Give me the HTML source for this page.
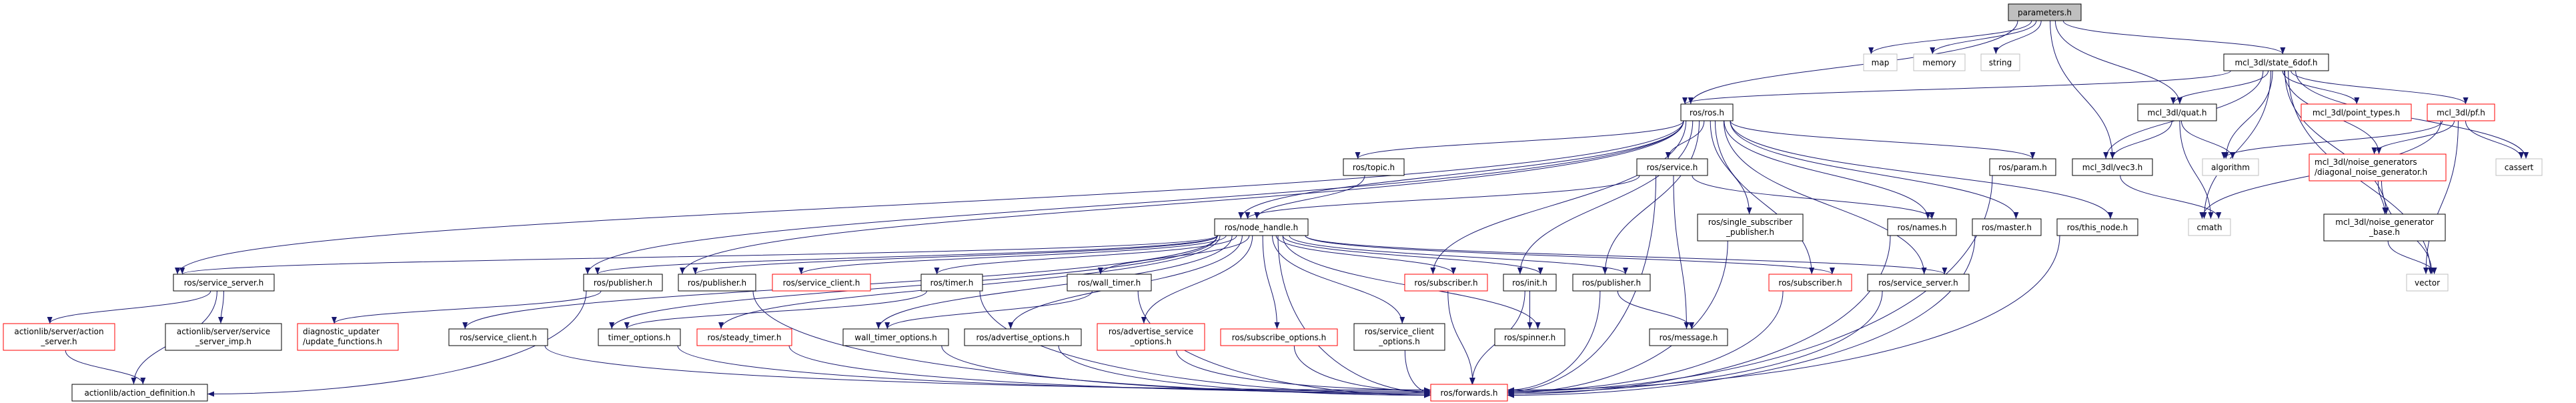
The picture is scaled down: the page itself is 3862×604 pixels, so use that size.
<!DOCTYPE html>
<html><head><meta charset="utf-8">
<style>
html,body{margin:0;padding:0;background:#fff;}
svg{display:block;}
text{font-family:"DejaVu Sans","Liberation Sans",sans-serif;font-size:12px;fill:#000;}
</style></head>
<body>
<svg id="g" width="3862" height="604" viewBox="0 0 3862 604" xmlns="http://www.w3.org/2000/svg">
<defs>
<marker id="ar" markerWidth="11" markerHeight="8" refX="10" refY="4" orient="auto" markerUnits="userSpaceOnUse">
<polygon points="0,0 10,4 0,8" fill="#191970"/>
</marker>
</defs>
<g id="edges" fill="none" stroke="#191970" stroke-width="1"></g>
<g id="nodes">
<rect x="3011" y="6" width="109" height="25" fill="#bfbfbf" stroke="#000"/><text x="3065.5" y="23" text-anchor="middle">parameters.h</text>
<rect x="2794" y="81" width="50" height="25" fill="#fff" stroke="#bfbfbf"/><text x="2819" y="98" text-anchor="middle">map</text>
<rect x="2869" y="81" width="77" height="25" fill="#fff" stroke="#bfbfbf"/><text x="2907.5" y="98" text-anchor="middle">memory</text>
<rect x="2970" y="81" width="58" height="25" fill="#fff" stroke="#bfbfbf"/><text x="2999" y="98" text-anchor="middle">string</text>
<rect x="3334" y="81" width="157" height="25" fill="#fff" stroke="#000"/><text x="3412.5" y="98" text-anchor="middle">mcl_3dl/state_6dof.h</text>
<rect x="2520" y="156" width="78" height="25" fill="#fff" stroke="#000"/><text x="2559" y="173" text-anchor="middle">ros/ros.h</text>
<rect x="3205" y="156" width="118" height="25" fill="#fff" stroke="#000"/><text x="3264" y="173" text-anchor="middle">mcl_3dl/quat.h</text>
<rect x="3450" y="156" width="165" height="25" fill="#fff" stroke="#ff0000"/><text x="3532.5" y="173" text-anchor="middle">mcl_3dl/point_types.h</text>
<rect x="3639" y="156" width="101" height="25" fill="#fff" stroke="#ff0000"/><text x="3689.5" y="173" text-anchor="middle">mcl_3dl/pf.h</text>
<rect x="2014" y="238" width="91" height="25" fill="#fff" stroke="#000"/><text x="2059.5" y="255" text-anchor="middle">ros/topic.h</text>
<rect x="2454" y="238" width="106" height="25" fill="#fff" stroke="#000"/><text x="2507" y="255" text-anchor="middle">ros/service.h</text>
<rect x="2983" y="238" width="99" height="25" fill="#fff" stroke="#000"/><text x="3032.5" y="255" text-anchor="middle">ros/param.h</text>
<rect x="3107" y="238" width="120" height="25" fill="#fff" stroke="#000"/><text x="3167" y="255" text-anchor="middle">mcl_3dl/vec3.h</text>
<rect x="3302" y="238" width="84" height="25" fill="#fff" stroke="#bfbfbf"/><text x="3344" y="255" text-anchor="middle">algorithm</text>
<rect x="3462" y="231" width="205" height="40" fill="#fff" stroke="#ff0000"/><text x="3470" y="247">mcl_3dl/noise_generators</text><text x="3470" y="262">/diagonal_noise_generator.h</text>
<rect x="3742" y="238" width="69" height="25" fill="#fff" stroke="#bfbfbf"/><text x="3776.5" y="255" text-anchor="middle">cassert</text>
<rect x="1821" y="328" width="140" height="25" fill="#fff" stroke="#000"/><text x="1891" y="345" text-anchor="middle">ros/node_handle.h</text>
<rect x="2545" y="321" width="158" height="40" fill="#fff" stroke="#000"/><text x="2624" y="337" text-anchor="middle">ros/single_subscriber</text><text x="2624" y="352" text-anchor="middle">_publisher.h</text>
<rect x="2830" y="328" width="103" height="25" fill="#fff" stroke="#000"/><text x="2881.5" y="345" text-anchor="middle">ros/names.h</text>
<rect x="2957" y="328" width="103" height="25" fill="#fff" stroke="#000"/><text x="3008.5" y="345" text-anchor="middle">ros/master.h</text>
<rect x="3084" y="328" width="121" height="25" fill="#fff" stroke="#000"/><text x="3144.5" y="345" text-anchor="middle">ros/this_node.h</text>
<rect x="3281" y="328" width="63" height="25" fill="#fff" stroke="#bfbfbf"/><text x="3312.5" y="345" text-anchor="middle">cmath</text>
<rect x="3484" y="321" width="182" height="40" fill="#fff" stroke="#000"/><text x="3575" y="337" text-anchor="middle">mcl_3dl/noise_generator</text><text x="3575" y="352" text-anchor="middle">_base.h</text>
<rect x="260" y="411" width="151" height="25" fill="#fff" stroke="#000"/><text x="335.5" y="428" text-anchor="middle">ros/service_server.h</text>
<rect x="875" y="411" width="118" height="25" fill="#fff" stroke="#000"/><text x="934" y="428" text-anchor="middle">ros/publisher.h</text>
<rect x="1017" y="411" width="116" height="25" fill="#fff" stroke="#000"/><text x="1075" y="428" text-anchor="middle">ros/publisher.h</text>
<rect x="1158" y="411" width="147" height="25" fill="#fff" stroke="#ff0000"/><text x="1231.5" y="428" text-anchor="middle">ros/service_client.h</text>
<rect x="1381" y="411" width="92" height="25" fill="#fff" stroke="#000"/><text x="1427" y="428" text-anchor="middle">ros/timer.h</text>
<rect x="1600" y="411" width="126" height="25" fill="#fff" stroke="#000"/><text x="1663" y="428" text-anchor="middle">ros/wall_timer.h</text>
<rect x="2106" y="411" width="124" height="25" fill="#fff" stroke="#ff0000"/><text x="2168" y="428" text-anchor="middle">ros/subscriber.h</text>
<rect x="2254" y="411" width="79" height="25" fill="#fff" stroke="#000"/><text x="2293.5" y="428" text-anchor="middle">ros/init.h</text>
<rect x="2358" y="411" width="116" height="25" fill="#fff" stroke="#000"/><text x="2416" y="428" text-anchor="middle">ros/publisher.h</text>
<rect x="2652" y="411" width="124" height="25" fill="#fff" stroke="#ff0000"/><text x="2714" y="428" text-anchor="middle">ros/subscriber.h</text>
<rect x="2800" y="411" width="152" height="25" fill="#fff" stroke="#000"/><text x="2876" y="428" text-anchor="middle">ros/service_server.h</text>
<rect x="3608" y="411" width="62" height="25" fill="#fff" stroke="#bfbfbf"/><text x="3639" y="428" text-anchor="middle">vector</text>
<rect x="5" y="485" width="167" height="40" fill="#fff" stroke="#ff0000"/><text x="88.5" y="501" text-anchor="middle">actionlib/server/action</text><text x="88.5" y="516" text-anchor="middle">_server.h</text>
<rect x="248" y="485" width="174" height="40" fill="#fff" stroke="#000"/><text x="335" y="501" text-anchor="middle">actionlib/server/service</text><text x="335" y="516" text-anchor="middle">_server_imp.h</text>
<rect x="446" y="485" width="151" height="40" fill="#fff" stroke="#ff0000"/><text x="454" y="501">diagnostic_updater</text><text x="454" y="516">/update_functions.h</text>
<rect x="673" y="493" width="148" height="25" fill="#fff" stroke="#000"/><text x="747" y="510" text-anchor="middle">ros/service_client.h</text>
<rect x="897" y="493" width="123" height="25" fill="#fff" stroke="#000"/><text x="958.5" y="510" text-anchor="middle">timer_options.h</text>
<rect x="1045" y="493" width="142" height="25" fill="#fff" stroke="#ff0000"/><text x="1116" y="510" text-anchor="middle">ros/steady_timer.h</text>
<rect x="1264" y="493" width="158" height="25" fill="#fff" stroke="#000"/><text x="1343" y="510" text-anchor="middle">wall_timer_options.h</text>
<rect x="1446" y="493" width="175" height="25" fill="#fff" stroke="#000"/><text x="1533.5" y="510" text-anchor="middle">ros/advertise_options.h</text>
<rect x="1645" y="485" width="161" height="40" fill="#fff" stroke="#ff0000"/><text x="1725.5" y="501" text-anchor="middle">ros/advertise_service</text><text x="1725.5" y="516" text-anchor="middle">_options.h</text>
<rect x="1830" y="493" width="175" height="25" fill="#fff" stroke="#ff0000"/><text x="1917.5" y="510" text-anchor="middle">ros/subscribe_options.h</text>
<rect x="2030" y="485" width="136" height="40" fill="#fff" stroke="#000"/><text x="2098" y="501" text-anchor="middle">ros/service_client</text><text x="2098" y="516" text-anchor="middle">_options.h</text>
<rect x="2241" y="493" width="105" height="25" fill="#fff" stroke="#000"/><text x="2293.5" y="510" text-anchor="middle">ros/spinner.h</text>
<rect x="2473" y="493" width="117" height="25" fill="#fff" stroke="#000"/><text x="2531.5" y="510" text-anchor="middle">ros/message.h</text>
<rect x="108" y="576" width="203" height="25" fill="#fff" stroke="#000"/><text x="209.5" y="593" text-anchor="middle">actionlib/action_definition.h</text>
<rect x="2145" y="576" width="115" height="25" fill="#fff" stroke="#ff0000"/><text x="2202.5" y="593" text-anchor="middle">ros/forwards.h</text>
</g>
</svg>
<script>
var N={P:[3011,6,109,25],map:[2794,81,50,25],memory:[2869,81,77,25],string:[2970,81,58,25],S:[3334,81,157,25],R:[2520,156,78,25],Q:[3205,156,118,25],PT:[3450,156,165,25],PF:[3639,156,101,25],TOP:[2014,238,91,25],SV:[2454,238,106,25],PAR:[2983,238,99,25],V:[3107,238,120,25],ALG:[3302,238,84,25],DG:[3462,231,205,40],CA:[3742,238,69,25],NH:[1821,328,140,25],SSP:[2545,321,158,40],NM:[2830,328,103,25],MA:[2957,328,103,25],TN:[3084,328,121,25],CM:[3281,328,63,25],NB:[3484,321,182,40],SS1:[260,411,151,25],PB1:[875,411,118,25],PB2:[1017,411,116,25],SC1:[1158,411,147,25],TM:[1381,411,92,25],WT:[1600,411,126,25],SB1:[2106,411,124,25],IN:[2254,411,79,25],PB3:[2358,411,116,25],SB2:[2652,411,124,25],SS2:[2800,411,152,25],VEC:[3608,411,62,25],AS:[5,485,167,40],SSI:[248,485,174,40],DU:[446,485,151,40],SC2:[673,493,148,25],TO:[897,493,123,25],ST:[1045,493,142,25],WTO:[1264,493,158,25],AO:[1446,493,175,25],ASO:[1645,485,161,40],SO:[1830,493,175,25],SCO:[2030,485,136,40],SP:[2241,493,105,25],MSG:[2473,493,117,25],AD:[108,576,203,25],FW:[2145,576,115,25]};
var E={P:['map','memory','string','R','V','Q','S'],S:['R','Q','V','ALG','PT','PF','DG','CA','NB','VEC','CM'],Q:['V','CM','ALG'],PF:['ALG','CM','DG','VEC','CA'],DG:['NB','VEC'],NB:['VEC'],V:['CM'],
R:['SS1','PB1','PB2','NH','TOP','SV','SSP','NM','MA','TN','PAR','SB1','IN','PB3','SB2','SS2'],TOP:['NH'],SV:['NH','NM','MSG','FW'],SSP:['FW'],NM:['FW'],MA:['FW'],TN:['FW'],PAR:['FW'],
NH:['SS1','PB1','PB2','SC1','TM','WT','TO','ST','WTO','AO','ASO','SO','SCO','SB1','IN','PB3','SB2','SS2','SP','FW','SC2'],
SS1:['AS','SSI','AD'],AS:['AD'],PB1:['DU','AD'],TM:['TO','FW'],WT:['WTO','FW'],SC2:['FW'],TO:['FW'],ST:['FW'],WTO:['FW'],AO:['FW'],ASO:['FW'],SO:['FW'],SCO:['FW'],SB1:['FW'],IN:['SP','FW'],PB3:['MSG','FW'],SB2:['FW'],SS2:['FW'],PB2:['FW']};
var g=document.getElementById('edges'),ns='http://www.w3.org/2000/svg',cnt={};
for(var s in E){E[s].forEach(function(t){
 var a=N[s],b=N[t];
 var acx=a[0]+a[2]/2,sy=a[1]+a[3];
 var tcx=b[0]+b[2]/2,ty=b[1];
 var dx=tcx-acx,dy=ty-sy;
 var sx=acx+Math.max(-a[2]/2+4,Math.min(a[2]/2-4,dx*0.08));
 var k=(cnt[t]=(cnt[t]||0)+1);
 var d;
 var side=(t==='FW'||t==='AD') && Math.abs(dx)>b[2]*0.9;
 if(side){
   var ex=dx>0?b[0]:b[0]+b[2];
   var ey=b[1]+b[3]/2+((k%5)-2)*2;
   d='M'+sx+','+sy+' C'+sx+','+(sy+(ey-sy)*0.7)+' '+(ex-(ex-sx)*0.45)+','+ey+' '+ex+','+ey;
 } else {
   var tx=tcx+Math.max(-b[2]/2+6,Math.min(b[2]/2-6,dx*0.04+((k%5)-2)*4));
   d='M'+sx+','+sy+' C'+sx+','+(sy+dy*0.55)+' '+tx+','+(ty-dy*0.45)+' '+tx+','+ty;
 }
 var p=document.createElementNS(ns,'path');p.setAttribute('d',d);p.setAttribute('marker-end','url(#ar)');g.appendChild(p);
});}
</script>
</body></html>
